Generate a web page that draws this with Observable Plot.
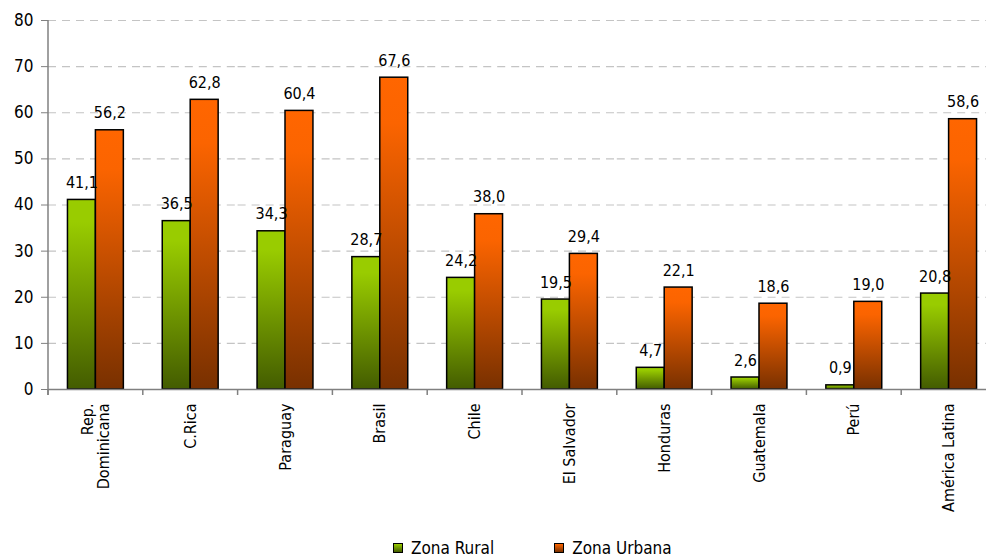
<!DOCTYPE html>
<html><head><meta charset="utf-8">
<script src="https://cdn.jsdelivr.net/npm/d3@7"></script>
<script src="https://cdn.jsdelivr.net/npm/@observablehq/plot@0.6"></script>
<style>
html,body{margin:0;padding:0;background:#fff;}
body{width:986px;height:558px;overflow:hidden;position:relative;font-family:"Liberation Sans Narrow","Arial Narrow","DejaVu Sans Condensed",sans-serif;}
#chart{position:absolute;left:0;top:0;width:998px;}
#chart svg{max-width:none !important;}
#legend{position:absolute;left:393px;top:538px;display:flex;align-items:center;font-size:17px;line-height:20px;color:#000;}
.item{display:flex;align-items:center;margin-right:60px;}
.sw{width:8px;height:8px;border:1px solid #000;margin-right:8px;}
</style></head><body>
<svg width="0" height="0" style="position:absolute"><defs>
<linearGradient id="gRural" x1="0" y1="0" x2="0" y2="1"><stop offset="0" stop-color="#99cc00"/><stop offset="0.12" stop-color="#99cc00"/><stop offset="1" stop-color="#435c00"/></linearGradient>
<linearGradient id="gUrbana" x1="0" y1="0" x2="0" y2="1"><stop offset="0" stop-color="#ff6600"/><stop offset="0.15" stop-color="#fb6400"/><stop offset="1" stop-color="#783000"/></linearGradient>
</defs></svg>
<div id="chart"></div>
<div id="legend">
 <div class="item"><div class="sw" style="background:linear-gradient(#99cc00,#435c00)"></div><span>Zona Rural</span></div>
 <div class="item"><div class="sw" style="background:linear-gradient(#ff6600,#783000)"></div><span>Zona Urbana</span></div>
</div>
<script>
const countries = ["Rep. Dominicana","C.Rica","Paraguay","Brasil","Chile","El Salvador","Honduras","Guatemala","Perú","América Latina"];
const rural = [41.1,36.5,34.3,28.7,24.2,19.5,4.7,2.6,0.9,20.8];
const urbana = [56.2,62.8,60.4,67.6,38.0,29.4,22.1,18.6,19.0,58.6];
const series = ["Zona Rural","Zona Urbana"];
const yTicks = [0,10,20,30,40,50,60,70,80];
const tickLabels = new Map([["Rep. Dominicana","Rep.\nDominicana"]]);

const data = countries.flatMap((c,i)=>[
  {country:c, serie:series[0], value:rural[i]},
  {country:c, serie:series[1], value:urbana[i]}
]);
const fmt = v => v.toFixed(1).replace(".", ",");
const FONT = '"Liberation Sans Narrow","Arial Narrow","DejaVu Sans Condensed",sans-serif';

const chart = Plot.plot({
  width: 996, height: 525,
  marginLeft: 48, marginRight: 0, marginTop: 20, marginBottom: 136,
  style: {fontFamily: FONT, fontSize: "16px", color: "#000", background: "transparent", overflow: "visible", maxWidth: "none"},
  fx: {domain: countries, paddingInner: 0, paddingOuter: 0, round: false, label: null, axis: null},
  x: {domain: series, paddingInner: 0, paddingOuter: 0.696, round: false, axis: null},
  y: {domain: [0,80], label: null, axis: null},
  color: {domain: series, range: ["url(#gRural)","url(#gUrbana)"]},
  marks: [
    Plot.ruleY(yTicks.filter(d => d > 0), {stroke: "#c4c4c4", strokeWidth: 1.2, strokeDasharray: "8,6"}),
    Plot.axisY({ticks: yTicks, tickSize: 7, tickPadding: 8, stroke: "#808080", fill: "#000", fontSize: 17, label: null, tickFormat: d => d}),
    Plot.axisFx({anchor: "bottom", tickSize: 0, tickPadding: 14, tickRotate: -90, fontSize: 16, label: null, tickFormat: d => tickLabels.get(d) ?? d}),
    Plot.barY(data, {fx: "country", x: "serie", y: "value", fill: "serie", stroke: "#000", strokeWidth: 1.5}),
    Plot.text(data, {fx: "country", x: "serie", y: "value", text: d => fmt(d.value), lineAnchor: "bottom", dy: -12, fontSize: 16}),
    Plot.ruleY([0], {stroke: "#808080", strokeWidth: 1.5})
  ]
});
document.getElementById("chart").appendChild(chart);

// axis line and category boundary ticks, from the plot's own scales
const fxs = chart.scale("fx"), ys = chart.scale("y");
const yBase = ys.apply(0), yTop = ys.apply(80);
const g = d3.select(chart).append("g").attr("stroke", "#808080").attr("stroke-width", 1.5);
const x0 = fxs.apply(countries[0]);
g.append("line").attr("x1", x0).attr("x2", x0).attr("y1", yTop).attr("y2", yBase + 6);
countries.forEach(c => {
  const xl = fxs.apply(c);
  g.append("line").attr("x1", xl).attr("x2", xl).attr("y1", yBase).attr("y2", yBase + 6);
});
const xr = fxs.apply(countries[countries.length-1]) + fxs.bandwidth;
g.append("line").attr("x1", xr).attr("x2", xr).attr("y1", yBase).attr("y2", yBase + 6);
</script>
</body></html>
